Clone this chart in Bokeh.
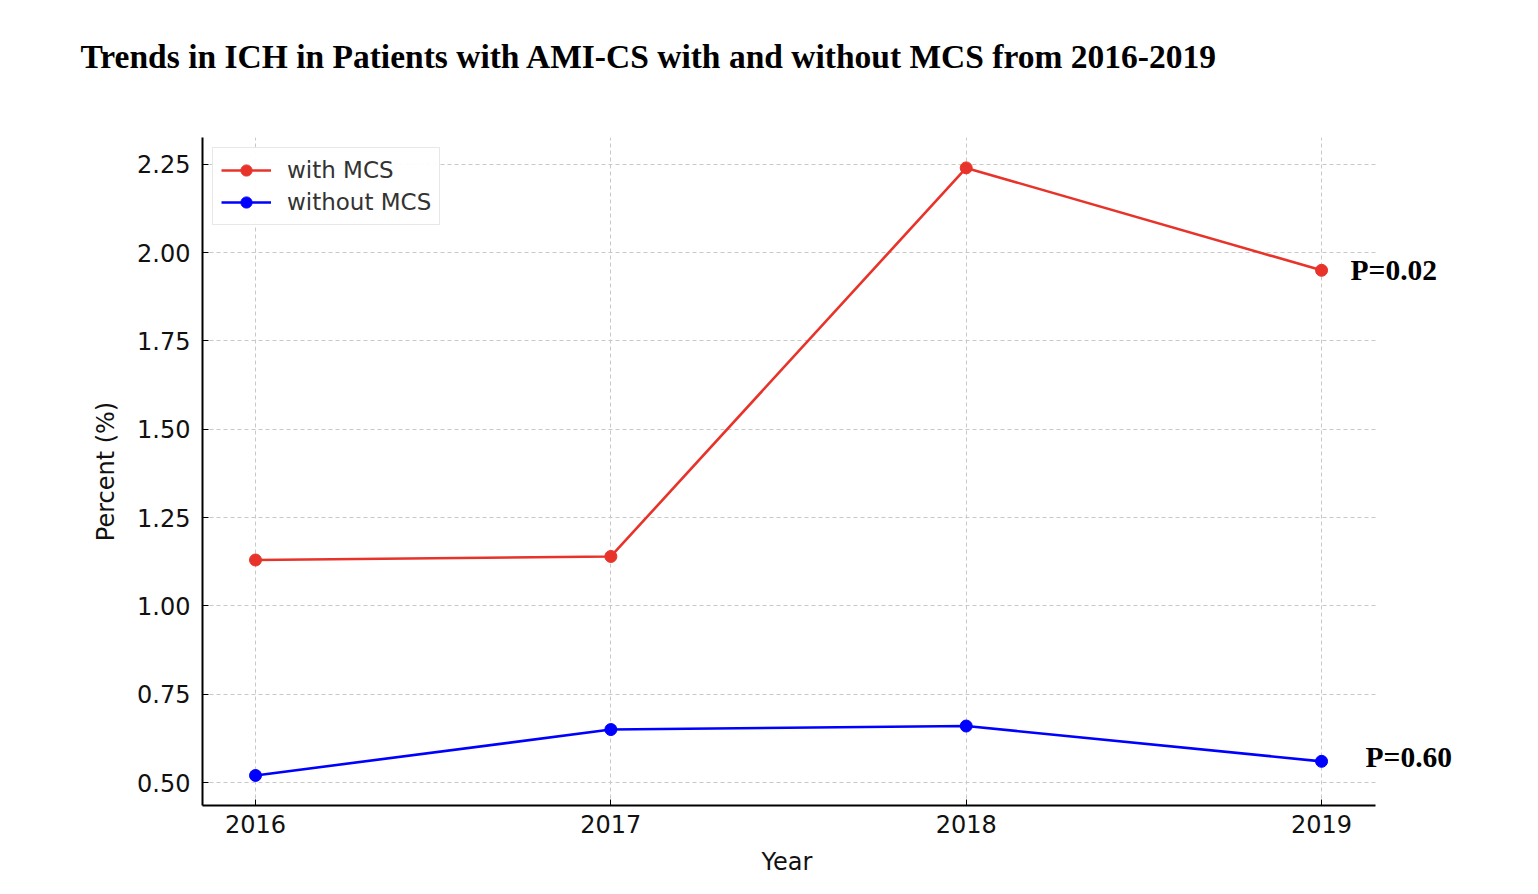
from bokeh.plotting import figure
from bokeh.models import Label, Legend, LegendItem, FixedTicker, CustomJSTickFormatter, Title
from bokeh.embed import file_html
from bokeh.resources import INLINE

years = [2016, 2017, 2018, 2019]
with_mcs = [1.13, 1.14, 2.24, 1.95]
without_mcs = [0.52, 0.65, 0.66, 0.56]
y_ticks = [0.50, 0.75, 1.00, 1.25, 1.50, 1.75, 2.00, 2.25]
p_labels = ["P=0.02", "P=0.60"]
title_text = "Trends in ICH in Patients with AMI-CS with and without MCS from 2016-2019"
x_label = "Year"
y_label = "Percent (%)"

RED = "#e8332a"
BLUE = "#0000ff"

X0, X_AXIS_END, X1 = 2015.8508, 2019.152, 2019.588
Y0, Y1 = 0.435, 2.326

W, H = 1530, 886
p = figure(width=W, height=H, output_backend="svg", toolbar_location=None,
           x_range=(X0, X1), y_range=(Y0, Y1),
           min_border_left=202, min_border_right=0, min_border_top=137, min_border_bottom=81)
p.outline_line_color = None
p.background_fill_color = "white"

for ax in (p.xaxis[0], p.yaxis[0]):
    ax.major_tick_in = 6
    ax.major_tick_out = 0
    ax.minor_tick_line_color = None
    ax.axis_line_width = 2
    ax.axis_line_color = "black"
    ax.major_tick_line_color = "black"
    ax.major_label_text_font = "DejaVu Sans"
    ax.major_label_text_font_size = "24px"
    ax.major_label_text_color = "#111111"
    ax.axis_label_text_font = "DejaVu Sans"
    ax.axis_label_text_font_size = "24px"
    ax.axis_label_text_font_style = "normal"
    ax.axis_label_text_color = "#111111"

p.xaxis[0].ticker = FixedTicker(ticks=years)
p.xaxis[0].bounds = (X0, X_AXIS_END)
p.yaxis[0].ticker = FixedTicker(ticks=y_ticks)
p.yaxis[0].formatter = CustomJSTickFormatter(code="return tick.toFixed(2);")
p.yaxis[0].axis_label = y_label
p.xaxis[0].major_label_standoff = 9
p.yaxis[0].major_label_standoff = 12
p.yaxis[0].axis_label_standoff = 14

# x-axis label centred under the axis line (not under the whole frame)
xt = Title(text=x_label, align="left", offset=559, standoff=20,
           text_font="DejaVu Sans", text_font_style="normal", text_font_size="24px",
           text_color="#111111")
p.add_layout(xt, "below")

p.xgrid.ticker = FixedTicker(ticks=years)
p.ygrid.ticker = FixedTicker(ticks=y_ticks)
p.ygrid[0].cross_bounds = (X0, X_AXIS_END)
for g in (p.xgrid[0], p.ygrid[0]):
    g.grid_line_color = "#c8c8c8"
    g.grid_line_dash = "4 3"
    g.grid_line_width = 1

r1l = p.line(years, with_mcs, line_color=RED, line_width=2.6)
r1s = p.scatter(years, with_mcs, size=12, fill_color=RED, line_color=RED)
r2l = p.line(years, without_mcs, line_color=BLUE, line_width=2.6)
r2s = p.scatter(years, without_mcs, size=12, fill_color=BLUE, line_color=BLUE)

legend = Legend(items=[LegendItem(label="with MCS", renderers=[r1l, r1s]),
                       LegendItem(label="without MCS", renderers=[r2l, r2s])],
                location="top_left")
legend.label_text_font = "DejaVu Sans"
legend.label_text_font_size = "23px"
legend.label_text_color = "#333333"
legend.border_line_color = "#d0d0d0"
legend.border_line_width = 1.5
legend.margin = 10
legend.padding = 8
legend.spacing = 4
legend.glyph_width = 50
legend.glyph_height = 28
legend.label_standoff = 16
p.add_layout(legend, "center")

p.add_layout(Label(x=years[-1], y=with_mcs[-1], text=p_labels[0], x_offset=29, y_offset=0,
                   text_baseline="middle", text_font="Liberation Serif",
                   text_font_style="bold", text_font_size="29.5px", text_color="black"))
p.add_layout(Label(x=years[-1], y=without_mcs[-1], text=p_labels[1], x_offset=44, y_offset=4,
                   text_baseline="middle", text_font="Liberation Serif",
                   text_font_style="bold", text_font_size="29.5px", text_color="black"))

# spacer panel between frame and title, then the title itself
spacer = Title(text=" ", standoff=60, text_font_size="1px")
p.add_layout(spacer, "above")
t = Title(text=title_text, align="left", offset=-122, standoff=0,
          text_font="Liberation Serif", text_font_style="bold", text_font_size="33.5px",
          text_color="black")
p.add_layout(t, "above")

open("out.html", "w").write(file_html(p, INLINE))
